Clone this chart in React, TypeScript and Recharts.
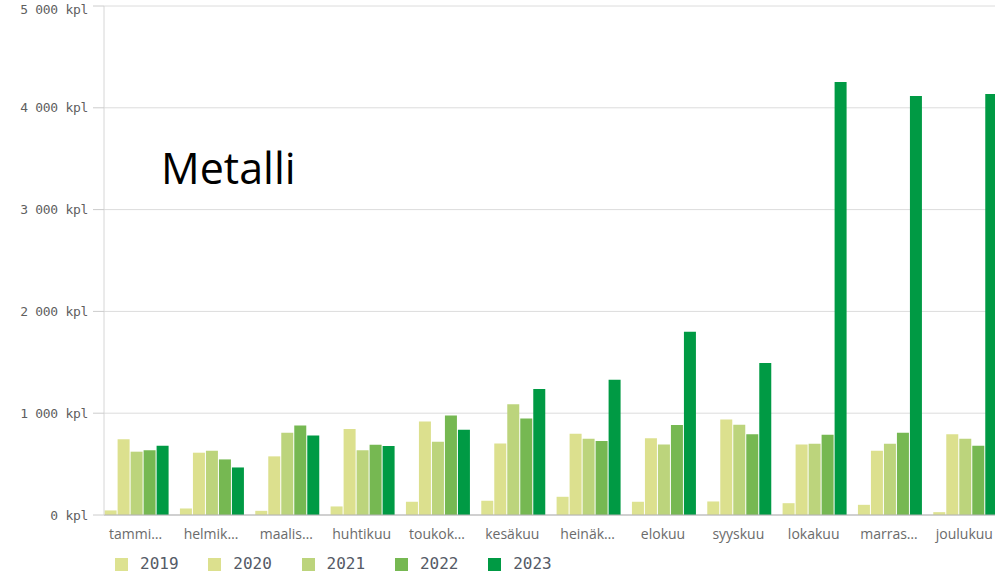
import { Bar, BarChart, CartesianGrid, XAxis, YAxis } from "recharts";

const months = [
  "tammikuu",
  "helmikuu",
  "maaliskuu",
  "huhtikuu",
  "toukokuu",
  "kesäkuu",
  "heinäkuu",
  "elokuu",
  "syyskuu",
  "lokakuu",
  "marraskuu",
  "joulukuu",
];
const monthLabels = [
  "tammi…",
  "helmik…",
  "maalis…",
  "huhtikuu",
  "toukok…",
  "kesäkuu",
  "heinäk…",
  "elokuu",
  "syyskuu",
  "lokakuu",
  "marras…",
  "joulukuu",
];
const years = ["2019", "2020", "2021", "2022", "2023"];
const colors = ["#dde291", "#dce08e", "#bcd47c", "#76b852", "#009a44"];

const y2019 = [45, 64, 41, 84, 130, 140, 179, 130, 133, 116, 100, 28];
const y2020 = [743, 612, 576, 845, 919, 703, 798, 755, 939, 693, 631, 792];
const y2021 = [622, 632, 809, 635, 720, 1087, 749, 693, 887, 700, 700, 749];
const y2022 = [635, 546, 878, 691, 978, 949, 726, 883, 792, 789, 808, 680];
const y2023 = [681, 467, 780, 677, 838, 1237, 1329, 1801, 1493, 4253, 4115, 4135];
const yTicks = [0, 1000, 2000, 3000, 4000, 5000];

const seriesValues = [y2019, y2020, y2021, y2022, y2023];

const data = months.map((m, i) => {
  const row: Record<string, string | number> = { month: m, label: monthLabels[i] };
  years.forEach((y, k) => {
    row[y] = seriesValues[k][i];
  });
  return row;
});

const formatKpl = (v: number) =>
  String(v).replace(/\B(?=(\d{3})+(?!\d))/g, " ") + " kpl";

function MonthTick({ x, y, index }: { x?: number; y?: number; index?: number }) {
  return (
    <text
      x={x}
      y={y}
      dy="0.71em"
      textAnchor="middle"
      fill="#6b6b6b"
      fontSize={14}
      fontFamily="'Open Sans', sans-serif"
    >
      {monthLabels[index ?? 0]}
    </text>
  );
}

function KplTick({ x, y, payload }: { x?: number; y?: number; payload?: { value: number } }) {
  return (
    <text
      x={x}
      y={y}
      dy="0.355em"
      textAnchor="end"
      fill="#5f5f5f"
      fontSize={13}
      fontFamily="'DejaVu Sans Mono', monospace"
      letterSpacing={-0.3}
    >
      {formatKpl(payload?.value ?? 0)}
    </text>
  );
}

export default function App() {
  return (
    <div
      style={{
        position: "fixed",
        left: 0,
        top: 0,
        width: 995,
        height: 573,
        overflow: "hidden",
        background: "#fff",
      }}
    >
      <BarChart
        width={995}
        height={573}
        data={data}
        margin={{ top: 6, right: 0, bottom: 0, left: 0 }}
        barCategoryGap={6.6}
        barGap={1}
      >
        <CartesianGrid vertical={false} stroke="#dcdcdc" />
        <XAxis
          dataKey="month"
          height={58}
          padding={{ left: -6, right: -7 }}
          tickLine={false}
          axisLine={{ stroke: "#b3b3b3" }}
          tickSize={0}
          tickMargin={14}
          interval={0}
          tick={<MonthTick />}
        />
        <YAxis
          width={104}
          domain={[0, 5000]}
          ticks={yTicks}
          tickSize={11}
          tickMargin={5}
          axisLine={{ stroke: "#d6d6d6" }}
          tickLine={{ stroke: "#cccccc" }}
          tick={<KplTick />}
        />
        {years.map((y, k) => (
          <Bar key={y} dataKey={y} fill={colors[k]} isAnimationActive={false} />
        ))}
      </BarChart>
      <div
        style={{
          position: "absolute",
          left: 161,
          top: 146,
          fontFamily: "'Open Sans', sans-serif",
          fontSize: 43,
          lineHeight: 1,
          color: "#000",
        }}
      >
        Metalli
      </div>
      <div
        style={{
          position: "absolute",
          left: 115,
          top: 556,
          display: "flex",
          fontFamily: "'DejaVu Sans Mono', monospace",
          fontSize: 16,
          color: "#555a66",
        }}
      >
        {years.map((y, k) => (
          <div key={y} style={{ width: 93.3, display: "flex", alignItems: "center" }}>
            <span
              style={{
                width: 13,
                height: 13,
                background: colors[k],
                marginRight: 12,
                flex: "none",
              }}
            />
            <span style={{ lineHeight: "16px" }}>{y}</span>
          </div>
        ))}
      </div>
    </div>
  );
}
